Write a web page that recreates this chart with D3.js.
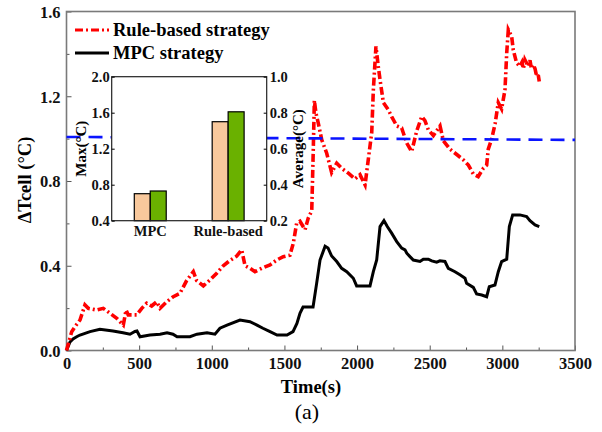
<!DOCTYPE html>
<html>
<head>
<meta charset="utf-8">
<script src="https://cdn.jsdelivr.net/npm/d3@7"></script>
<style>
  body { margin: 0; background: #fff; }
  text { font-family: "Liberation Serif", "Times New Roman", serif; font-weight: bold; }
</style>
</head>
<body>
<script>
// rule-based strategy (red dash-dot)
var ruleTime = [0, 36, 58, 93, 127, 150, 208, 253, 299, 346, 391, 410, 425, 483, 518, 552, 586, 621, 644, 690,
  735, 781, 827, 873, 896, 942, 988, 1034, 1079, 1125, 1171, 1206, 1229, 1263, 1297, 1344, 1401, 1447, 1492, 1538,
  1561, 1584, 1607, 1642, 1664, 1688, 1695, 1699, 1706, 1717, 1733, 1757, 1791, 1825, 1860, 1894, 1940, 1986, 2020, 2055,
  2077, 2101, 2112, 2130, 2146, 2158, 2181, 2215, 2238, 2273, 2307, 2342, 2376, 2410, 2445, 2467, 2490, 2525, 2571, 2594,
  2640, 2686, 2731, 2766, 2800, 2834, 2869, 2892, 2903, 2927, 2950, 2972, 2995, 3018, 3030, 3041, 3064, 3075, 3098, 3121,
  3135, 3145, 3155, 3178, 3190, 3200, 3213, 3225, 3236, 3245, 3254];
var ruleVal = [0, 0.089, 0.112, 0.144, 0.215, 0.199, 0.191, 0.199, 0.176, 0.152, 0.12, 0.191, 0.168, 0.168, 0.199, 0.223, 0.21, 0.23, 0.199, 0.23,
  0.254, 0.27, 0.33, 0.372, 0.33, 0.305, 0.333, 0.365, 0.40, 0.425, 0.445, 0.475, 0.40, 0.388, 0.372, 0.388, 0.404, 0.427, 0.443, 0.45,
  0.506, 0.60, 0.61, 0.57, 0.625, 0.66, 0.85, 0.96, 1.18, 1.12, 1.073, 0.994, 0.931, 0.84, 0.884, 0.86, 0.837, 0.81, 0.83, 0.782,
  0.9, 1.03, 1.23, 1.435, 1.34, 1.278, 1.17, 1.136, 1.104, 1.06, 1.05, 0.979, 0.939, 1.035, 1.104, 1.085, 1.042, 1.014, 1.06, 0.99,
  0.95, 0.925, 0.9, 0.875, 0.833, 0.821, 0.86, 0.875, 0.95, 1.0, 1.07, 1.17, 1.14, 1.23, 1.404, 1.514, 1.482, 1.419, 1.357, 1.341,
  1.36, 1.33, 1.372, 1.341, 1.37, 1.33, 1.349, 1.33, 1.293, 1.31, 1.27];

// MPC strategy (black)
var mpcTime = [0, 24, 45, 70, 93, 162, 230, 320, 389, 437, 471, 485, 506, 575, 644, 692, 733, 761, 850, 898,
  967, 1022, 1056, 1105, 1194, 1263, 1311, 1352, 1401, 1449, 1518, 1559, 1586, 1607, 1628, 1697, 1722, 1745, 1780, 1800,
  1825, 1860, 1894, 1929, 1974, 1997, 2089, 2112, 2135, 2158, 2185, 2208, 2238, 2273, 2307, 2330, 2342, 2364, 2387, 2433,
  2456, 2490, 2514, 2548, 2570, 2605, 2628, 2674, 2708, 2743, 2754, 2800, 2823, 2858, 2892, 2910, 2949, 2972, 2995, 3030,
  3048, 3071, 3121, 3167, 3190, 3225, 3254];
var mpcVal = [0, 0.04, 0.055, 0.065, 0.073, 0.089, 0.1, 0.092, 0.084, 0.077, 0.09, 0.092, 0.065, 0.073, 0.077, 0.084, 0.077, 0.065, 0.065, 0.077,
  0.084, 0.077, 0.105, 0.12, 0.144, 0.136, 0.12, 0.105, 0.089, 0.073, 0.073, 0.089, 0.128, 0.176, 0.205, 0.205, 0.318, 0.427, 0.492, 0.484,
  0.446, 0.42, 0.388, 0.372, 0.341, 0.305, 0.305, 0.372, 0.427, 0.585, 0.613, 0.585, 0.554, 0.514, 0.483, 0.475, 0.459, 0.443, 0.427, 0.42,
  0.431, 0.431, 0.423, 0.417, 0.423, 0.42, 0.388, 0.372, 0.357, 0.341, 0.317, 0.298, 0.267, 0.262, 0.254, 0.301, 0.309, 0.372, 0.42, 0.431,
  0.585, 0.64, 0.64, 0.632, 0.613, 0.593, 0.585];

// blue reference line
var refTime = [0, 3500];
var refVal = [1.008, 0.994];

// inset bars
var barCategories = ["MPC", "Rule-based"];
var maxValues = [0.70, 1.50];
var avgValues = [0.365, 0.805];

var xTicks = [0, 500, 1000, 1500, 2000, 2500, 3000, 3500];
var yTicks = [0.0, 0.4, 0.8, 1.2, 1.6];
var insetMaxTicks = [0.4, 0.8, 1.2, 1.6, 2.0];
var insetAvgTicks = [0.2, 0.4, 0.6, 0.8, 1.0];

var margin = { top: 11.5, right: 27, bottom: 81.5, left: 66.5 },
    width = 602 - margin.left - margin.right,
    height = 432 - margin.top - margin.bottom;

var svg = d3.select("body").append("svg")
    .attr("width", 602)
    .attr("height", 432);
var g = svg.append("g")
    .attr("transform", "translate(" + margin.left + "," + margin.top + ")");

var x = d3.scaleLinear().domain([0, 3500]).range([0, width]);
var y = d3.scaleLinear().domain([0, 1.6]).range([height, 0]);

// minor ticks
g.append("g")
    .attr("transform", "translate(0," + height + ")")
    .call(d3.axisBottom(x).tickValues(d3.range(250, 3500, 500)).tickSize(-3).tickFormat(""))
    .call(function (a) { a.select(".domain").remove(); a.selectAll("line").attr("stroke", "#555"); });
g.append("g")
    .call(d3.axisLeft(y).tickValues([0.2, 0.6, 1.0, 1.4]).tickSize(-3).tickFormat(""))
    .call(function (a) { a.select(".domain").remove(); a.selectAll("line").attr("stroke", "#555"); });

// major ticks + labels
var xAxis = g.append("g")
    .attr("transform", "translate(0," + height + ")")
    .call(d3.axisBottom(x).tickValues(xTicks).tickSizeInner(-5).tickSizeOuter(0).tickPadding(7).tickFormat(d3.format("d")));
var yAxis = g.append("g")
    .call(d3.axisLeft(y).tickValues(yTicks).tickSizeInner(-5).tickSizeOuter(0).tickPadding(6).tickFormat(d3.format(".1f")));
[xAxis, yAxis].forEach(function (a) {
  a.select(".domain").remove();
  a.selectAll("line").attr("stroke", "#555");
  a.selectAll("text").attr("font-size", 16.5).attr("fill", "#111")
    .style("font-family", '"Liberation Serif", serif');
});
yAxis.selectAll("text").attr("dy", "0.35em");

// frame
g.append("rect")
    .attr("width", width).attr("height", height)
    .attr("fill", "none").attr("stroke", "#7a7a7a").attr("stroke-width", 1.6);

var line = d3.line()
    .x(function (d) { return x(d[0]); })
    .y(function (d) { return y(d[1]); });

var ruleData = ruleTime.map(function (t, i) { return [t, ruleVal[i]]; });
var mpcData = mpcTime.map(function (t, i) { return [t, mpcVal[i]]; });
var refData = refTime.map(function (t, i) { return [t, refVal[i]]; });

g.append("path")
    .datum(mpcData)
    .attr("d", line)
    .attr("fill", "none").attr("stroke", "#000").attr("stroke-width", 3)
    .attr("stroke-linejoin", "miter");

g.append("path")
    .datum(ruleData)
    .attr("d", line)
    .attr("fill", "none").attr("stroke", "#ff0000").attr("stroke-width", 3.6)
    .attr("stroke-dasharray", "8,3,2,3");

// inset
var inset = { left: 111.7, top: 76.7, w: 155, h: 144 };
var ig = svg.append("g")
    .attr("transform", "translate(" + inset.left + "," + inset.top + ")");
ig.append("rect").attr("width", inset.w).attr("height", inset.h).attr("fill", "#fff");

var xb = d3.scaleBand().domain(barCategories).range([0, inset.w]).paddingInner(0.59).paddingOuter(0.29);
var xs = d3.scaleBand().domain(["max", "avg"]).range([0, xb.bandwidth()]);
var yMax = d3.scaleLinear().domain([0.4, 2.0]).range([inset.h, 0]);
var yAvg = d3.scaleLinear().domain([0.2, 1.0]).range([inset.h, 0]);

var grp = ig.selectAll(".bar")
    .data(barCategories)
    .enter().append("g")
    .attr("transform", function (d) { return "translate(" + xb(d) + ",0)"; });
grp.append("rect")
    .attr("x", xs("max")).attr("width", xs.bandwidth())
    .attr("y", function (d, i) { return yMax(maxValues[i]); })
    .attr("height", function (d, i) { return inset.h - yMax(maxValues[i]); })
    .attr("fill", "#f8c89c").attr("stroke", "#000").attr("stroke-width", 1.2);
grp.append("rect")
    .attr("x", xs("avg")).attr("width", xs.bandwidth())
    .attr("y", function (d, i) { return yAvg(avgValues[i]); })
    .attr("height", function (d, i) { return inset.h - yAvg(avgValues[i]); })
    .attr("fill", "#6ab100").attr("stroke", "#000").attr("stroke-width", 1.2);

ig.append("rect").attr("width", inset.w).attr("height", inset.h)
    .attr("fill", "none").attr("stroke", "#222").attr("stroke-width", 1.2);

var il = ig.append("g")
    .call(d3.axisLeft(yMax).tickValues(insetMaxTicks).tickSize(-3).tickPadding(2).tickFormat(d3.format(".1f")));
var ir = ig.append("g")
    .attr("transform", "translate(" + inset.w + ",0)")
    .call(d3.axisRight(yAvg).tickValues(insetAvgTicks).tickSize(-3).tickPadding(3).tickFormat(d3.format(".1f")));
var ib = ig.append("g")
    .attr("transform", "translate(0," + inset.h + ")")
    .call(d3.axisBottom(xb).tickSize(0).tickPadding(5));
[il, ir, ib].forEach(function (a) {
  a.select(".domain").remove();
  a.selectAll("text").attr("font-size", 14.5).attr("fill", "#111")
    .style("font-family", '"Liberation Serif", serif');
});

ig.append("text")
    .attr("transform", "translate(-26," + inset.h / 2 + ") rotate(-90)")
    .attr("text-anchor", "middle").attr("font-size", 15)
    .text("Max(°C)");
ig.append("text")
    .attr("transform", "translate(" + (inset.w + 36) + "," + inset.h / 2 + ") rotate(-90)")
    .attr("text-anchor", "middle").attr("font-size", 15)
    .text("Average(°C)");

// blue dashed reference line (drawn over the inset)
g.append("path")
    .datum(refData)
    .attr("d", line)
    .attr("fill", "none").attr("stroke", "#0a14ff").attr("stroke-width", 2.6)
    .attr("stroke-dasharray", "14,8");

// legend
var legend = [
  { label: "Rule-based strategy", color: "#ff0000", dash: "8,3,2,3", yy: 30 },
  { label: "MPC strategy", color: "#000", dash: null, yy: 53 }
];
legend.forEach(function (d) {
  svg.append("line")
    .attr("x1", 75).attr("x2", 109).attr("y1", d.yy).attr("y2", d.yy)
    .attr("stroke", d.color).attr("stroke-width", 3)
    .attr("stroke-dasharray", d.dash);
  svg.append("text")
    .attr("x", 113).attr("y", d.yy).attr("dy", "0.35em")
    .attr("font-size", 18.5)
    .text(d.label);
});

// axis titles
svg.append("text")
    .attr("transform", "translate(31,180) rotate(-90)")
    .attr("text-anchor", "middle").attr("font-size", 18.5)
    .text("ΔTcell (°C)");
svg.append("text")
    .attr("x", 311).attr("y", 393)
    .attr("text-anchor", "middle").attr("font-size", 18.5)
    .text("Time(s)");
svg.append("text")
    .attr("x", 307).attr("y", 419)
    .attr("text-anchor", "middle").attr("font-size", 22)
    .style("font-weight", "normal")
    .text("(a)");
</script>
</body>
</html>
